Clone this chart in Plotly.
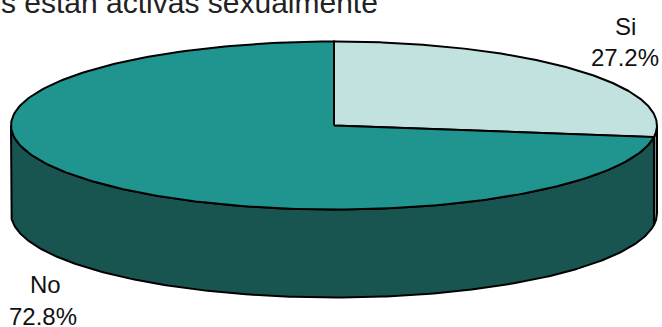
import numpy as np
import plotly.graph_objects as go

labels = ['Si', 'No']
shares = [27.2, 72.8]
top_colors = ['#C2E2DF', '#20948E']
wall_colors = ['#6E9491', '#185551']

# page is 662x327, axes are in pixels
cx, cy = 334, 125.5
rx, ry = 323, 84
depth = 88


def rim(start, end, drop=0):
    theta = np.radians(np.linspace(start, end, 240))
    return cx + rx * np.sin(theta), cy - ry * np.cos(theta) + drop


fig = go.Figure()
angle = 0
for label, share, top, wall in zip(labels, shares, top_colors, wall_colors):
    end = angle + share * 3.6
    # only the front half of the side can be seen
    a, b = max(angle, 90), min(end, 270)
    if a < b:
        x1, y1 = rim(a, b)
        x2, y2 = rim(b, a, depth)
        fig.add_trace(go.Scatter(x=np.r_[x1, x2, x1[0]], y=np.r_[y1, y2, y1[0]],
                                 mode='lines', fill='toself', fillcolor=wall,
                                 line=dict(color='black', width=2),
                                 name=label, hoverinfo='name'))
    x1, y1 = rim(angle, end)
    fig.add_trace(go.Scatter(x=np.r_[cx, x1, cx], y=np.r_[cy, y1, cy],
                             mode='lines', fill='toself', fillcolor=top,
                             line=dict(color='black', width=2),
                             name=label, hoverinfo='name'))
    angle = end

font = dict(family='Liberation Sans, Arial, sans-serif', color='#111111')
fig.add_annotation(x=625, y=26, text=labels[0], showarrow=False, font=dict(size=24, **font))
fig.add_annotation(x=625, y=57, text=f'{shares[0]}%', showarrow=False, font=dict(size=24, **font))
fig.add_annotation(x=45, y=284, text=labels[1], showarrow=False, font=dict(size=24, **font))
fig.add_annotation(x=43, y=316, text=f'{shares[1]}%', showarrow=False, font=dict(size=24, **font))
fig.add_annotation(xref='paper', x=0, xshift=-1, y=21, text='s estan activas sexualmente',
                   showarrow=False, xanchor='left', yanchor='bottom',
                   font=dict(size=30, family=font['family'], color='#222222'))

fig.update_xaxes(range=[0, 662], visible=False)
fig.update_yaxes(range=[327, 0], visible=False)
fig.update_layout(width=662, height=327, margin=dict(l=0, r=0, t=0, b=0),
                  showlegend=False, paper_bgcolor='white', plot_bgcolor='white')
# the browser's default body margin would push the chart 8px in
fig.write_html("out.html", config=dict(displayModeBar=False),
               post_script="document.body.style.margin = '0';")
